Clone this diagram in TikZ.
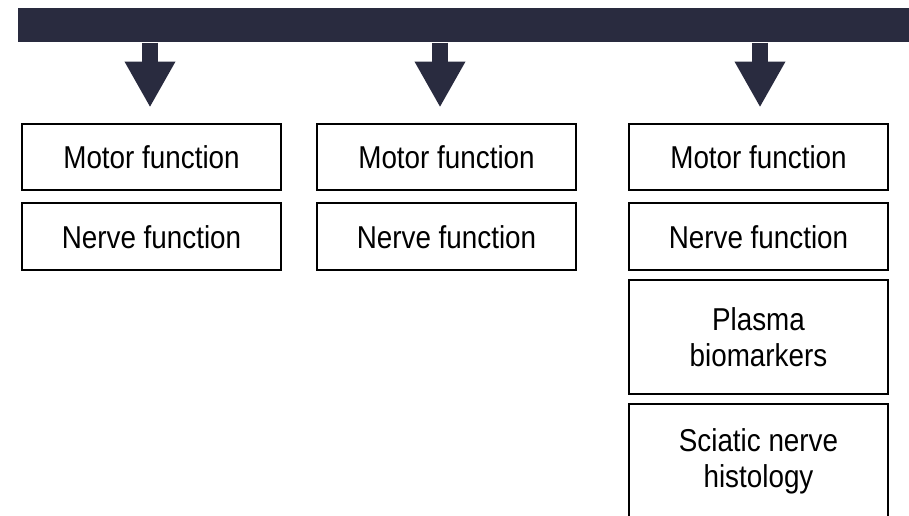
\documentclass[tikz,border=0pt]{standalone}
\usepackage{fontspec}
\setmainfont{Liberation Sans}[FakeStretch=0.88]
\usetikzlibrary{arrows.meta,positioning}
\definecolor{Navy}{HTML}{292B3F}
\tikzset{
  outcome/.style={draw=black,line width=0.04cm,minimum width=5.2cm,minimum height=1.34cm,
    align=center,font=\fontsize{18}{20.5}\selectfont,inner sep=0pt},
  tall/.style={outcome,minimum height=2.28cm},
  fatarrow/.style={draw=Navy,line width=0.31cm,-{Triangle[length=0.92cm,width=0.95cm]}},
}

\begin{document}
\begin{tikzpicture}[x=0.02cm,y=-0.02cm]
        \clip (0,0) rectangle (909,516);
        \useasboundingbox (0,0) rectangle (909,516);
        \node[fill=Navy,minimum width=17.82cm,minimum height=0.68cm,inner sep=0pt,anchor=north west] (bar) at (18,8) {};
        % three columns of outcomes
        \node[outcome] (motorA) at (151.5,157) {Motor function};
        \node[outcome,below=0.22cm of motorA] (nerveA) {Nerve function};
        \node[outcome] (motorB) at (446.5,157) {Motor function};
        \node[outcome,below=0.22cm of motorB] (nerveB) {Nerve function};
        \node[outcome] (motorC) at (758.5,157) {Motor function};
        \node[outcome,below=0.22cm of motorC] (nerveC) {Nerve function};
        \node[tall,below=0.16cm of nerveC] (plasma) {Plasma\\biomarkers};
        \node[tall,below=0.16cm of plasma] (sciatic) {Sciatic nerve\\histology};
        \foreach \m/\dx in {motorA/-1.5,motorB/-6.5,motorC/1.5}{
          \coordinate (tip-\m) at ([xshift=\dx*0.02cm,yshift=0.3cm]\m.north);
          \draw[fatarrow] (bar.south -| tip-\m) -- (tip-\m);}
      \end{tikzpicture}
\end{document}
